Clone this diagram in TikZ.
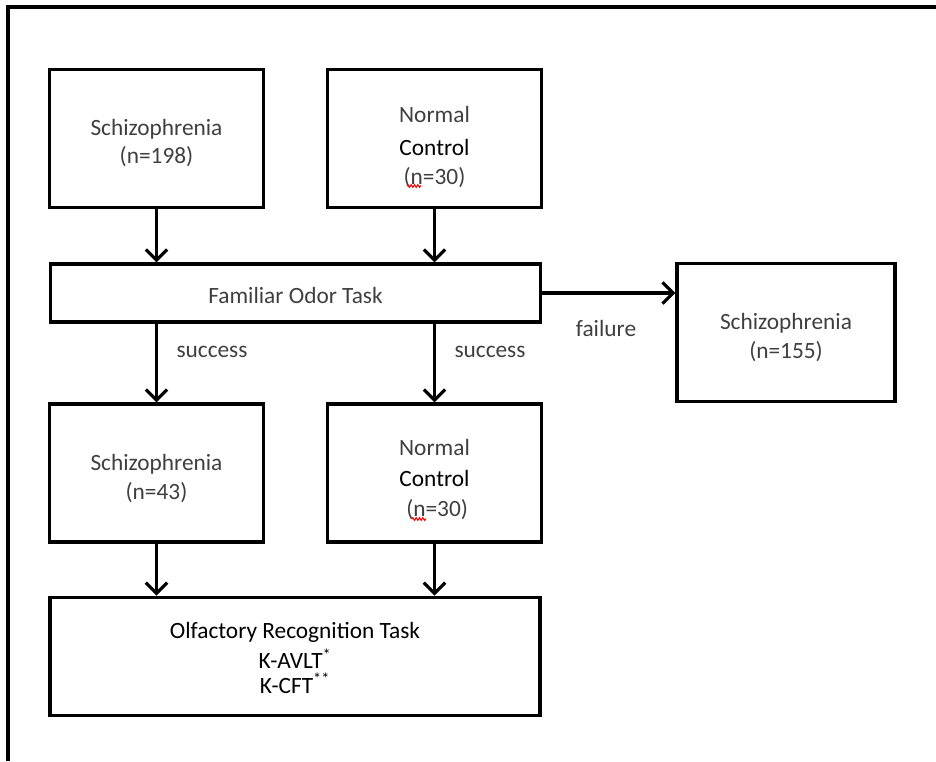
\documentclass[tikz,border=0pt]{standalone}
\usepackage{fontspec}
\setmainfont{Carlito}
\usetikzlibrary{arrows.meta,decorations.pathmorphing}
\definecolor{txtgray}{HTML}{3F3F3F}
\newcommand{\lowerfirst}[1]{\rule{0pt}{#1}}
\tikzset{
  box/.style={draw,line width=2.4pt,align=center,inner sep=0pt,text=txtgray,
    font=\fontsize{17.5}{21.5}\selectfont},
  flow/.style={line width=2.4pt,-{Straight Barb[length=8pt,width=16pt]}},
  lbl/.style={text=txtgray,font=\fontsize{17.5}{21.5}\selectfont},
  squiggle/.style={red,line width=0.8pt,decorate,
    decoration={zigzag,segment length=2.5pt,amplitude=1pt}}
}
\begin{document}
\begin{tikzpicture}[x=0.75pt,y=-0.75pt]
\useasboundingbox (0,0) rectangle (936,761);
\draw[line width=3pt] (8,761) -- (8,7) -- (936,7);

% first row
\node[box,minimum width=160pt,minimum height=104pt] (schizo) at (156.5,138.5)
  {\lowerfirst{19pt}Schizophrenia\\(n=198)};
\node[box,minimum width=160pt,minimum height=104pt] (normal) at (434.5,138.5)
  {\lowerfirst{25pt}Normal\\[3.5pt]\textcolor{black}{Control}\\[0.5pt](n=30)};

% odor task and failure
\node[box,minimum width=368pt,minimum height=43.5pt] (odor) at (295.5,293)
  {\lowerfirst{16.5pt}Familiar Odor Task};
\node[box,minimum width=163.5pt,minimum height=103pt] (fail) at (786,332.5)
  {\lowerfirst{20pt}Schizophrenia\\(n=155)};

% second row
\node[box,minimum width=160pt,minimum height=103.5pt] (schizook) at (156.5,473)
  {\lowerfirst{20pt}Schizophrenia\\(n=43)};
\node[box,minimum width=160pt,minimum height=103.5pt] (normalok) at (434.5,473)
  {\lowerfirst{22pt}Normal\\[1.5pt]\textcolor{black}{Control}\\[1.5pt]\ (n=30)};

% recognition task
\node[box,minimum width=367.5pt,minimum height=89pt,text=black] (recog) at (295,656.5)
  {\lowerfirst{14pt}Olfactory Recognition Task\\[1pt]K-AVLT\textsuperscript{*}\\[-3pt]K-CFT\textsuperscript{**}};

% arrows
\draw[flow] (schizo.south) -- (schizo.south |- odor.north);
\draw[flow] (normal.south) -- (normal.south |- odor.north);
\draw[flow] (odor.south -| schizo.south) -- (schizook.north);
\draw[flow] (odor.south -| normal.south) -- (normalok.north);
\draw[flow] (odor.east) -- (odor.east -| fail.west);
\draw[flow] (schizook.south) -- (schizook.south |- recog.north);
\draw[flow] (normalok.south) -- (normalok.south |- recog.north);

% labels
\node[lbl] (succ1) at (212,352) {success};
\node[lbl] (succ2) at (490,352) {success};
\node[lbl] (failure) at (606,328) {failure};

% spelling marks
\draw[squiggle] (407,186) -- (421,186);
\draw[squiggle] (412,519) -- (426,519);
\end{tikzpicture}
\end{document}
